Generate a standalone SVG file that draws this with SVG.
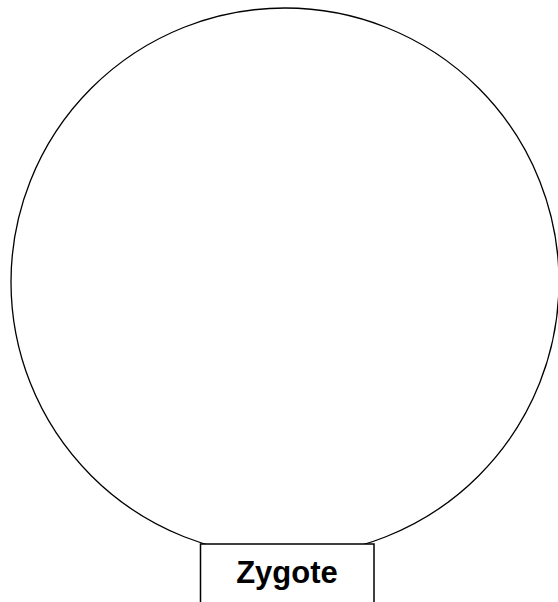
<svg xmlns="http://www.w3.org/2000/svg" width="558" height="602" viewBox="0 0 558 602">
<style>
.ln{fill:none;stroke:#000;stroke-width:1.3}
.box{fill:#fff;stroke:#000;stroke-width:1.5}
.lbl{font-family:"Liberation Sans",Arial,sans-serif;font-weight:bold;font-size:31px;fill:#000}
</style>
<rect width="558" height="602" fill="#fff"/>
<g id="circle">
<circle class="ln" cx="285" cy="282" r="274"/>
</g>
<g id="zygote">
<rect class="box" x="200.5" y="544" width="173.5" height="70"/>
<text class="lbl" x="287" y="583" text-anchor="middle">Zygote</text>
</g>
</svg>
